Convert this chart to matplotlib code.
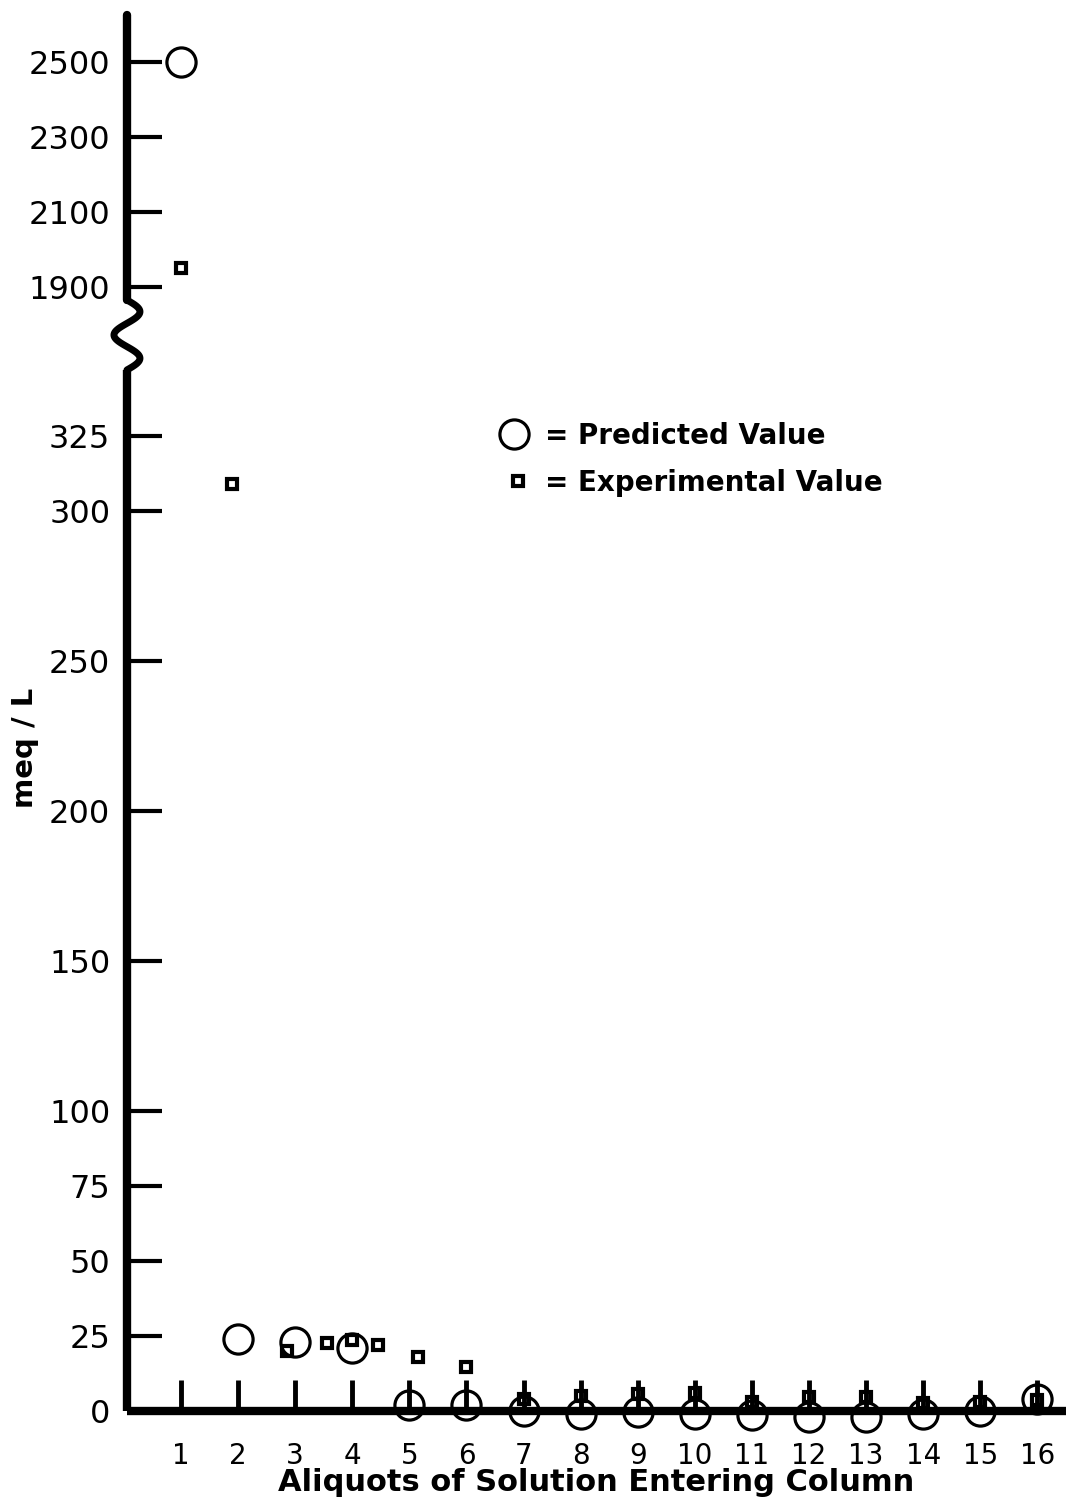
import numpy as np
import matplotlib.pyplot as plt

# predicted concentration for each aliquot
aliquot = np.arange(1, 17)
predicted = [2500, 24, 23, 21, 2, 2, 0, -1, -0.5, -1, -1.5, -2, -2, -1, 0, 4]

# measured concentration (first few aliquots were sampled between ticks)
exp_x = [1, 1.9, 2.85, 3.55, 4.0, 4.45, 5.15, 6.0,
         7, 8, 9, 10, 11, 12, 13, 14, 15, 16]
experimental = [1950, 309, 20, 22.7, 23.5, 22, 18, 14.5,
                4, 5, 5.5, 6, 3, 4.5, 4.5, 2.5, 3, 3.5]

yticks = [0, 25, 50, 75, 100, 150, 200, 250, 300, 325, 1900, 2100, 2300, 2500]

# broken axis: 1:1 up to 340, squeezed across the gap, 1/8 scale above 1800
brk_in = [-1000, 340, 1800, 5000]
brk_out = [-1000, 340, 362.2, 762.2]


def forward(v):
    return np.interp(v, brk_in, brk_out)


def inverse(u):
    return np.interp(u, brk_out, brk_in)


plt.rcParams['font.family'] = 'DejaVu Sans'

W, H = 1066, 1502
fig = plt.figure(figsize=(W / 100, H / 100), dpi=100)
ax = fig.add_axes([0.1191, 0.0606, 0.8809, 0.9294])

ax.set_yscale('function', functions=(forward, inverse))
ax.set_ylim(0, 2626)
ax.set_xlim(0.054, 16.5)

circ = dict(ls='none', marker='o', ms=21, mfc='none', mec='black', mew=2.3)
sq = dict(ls='none', marker='s', ms=7.0, mfc='none', mec='black', mew=3.0)

ax.plot(aliquot, predicted, clip_on=False, zorder=4, **circ)
ax.plot(exp_x, experimental, clip_on=False, zorder=5, **sq)

# axes lines
for s in ['top', 'right', 'left']:
    ax.spines[s].set_visible(False)
ax.spines['bottom'].set_linewidth(6)
ax.spines['bottom'].set_capstyle('butt')

# left axis with a squiggle marking the break
y_lo, y_hi = 347.0 / 465.3, 370.3 / 465.3
t = np.linspace(0, 1, 60)
sq_y = y_hi - t * (y_hi - y_lo)
sq_x = (13 / 939) * np.sin(3 * np.pi * t)
ax.plot([0, 0], [0, y_lo], color='black', lw=6, transform=ax.transAxes,
        clip_on=False, solid_capstyle='butt')
ax.plot(sq_x, sq_y, color='black', lw=5, transform=ax.transAxes,
        clip_on=False, solid_capstyle='round')
ax.plot([0, 0], [y_hi, 1], color='black', lw=6, transform=ax.transAxes,
        clip_on=False, solid_capstyle='round')

ax.set_yticks(yticks)
ax.set_yticklabels([str(v) for v in yticks])
ax.set_xticks(aliquot)
ax.set_xticklabels([str(v) for v in aliquot])
ax.yaxis.set_minor_locator(plt.NullLocator())
ax.tick_params(axis='y', direction='in', length=25, width=3, pad=12,
               labelsize=23)
ax.tick_params(axis='x', direction='in', length=22, width=3.5, pad=22,
               labelsize=20)

ax.set_xlabel('Aliquots of Solution Entering Column', fontsize=22,
              fontweight='bold', labelpad=-1)
ax.set_ylabel('meq / L', fontsize=21, fontweight='bold')
ax.yaxis.set_label_coords(-0.094, 0.475)

# key, hand-placed in figure pixels
ax.plot([514 / W], [1 - 434 / H], transform=fig.transFigure, clip_on=False, **circ)
ax.plot([518 / W], [1 - 481 / H], transform=fig.transFigure, clip_on=False, **sq)
fig.text(545 / W, 1 - 444 / H, '= Predicted Value', fontsize=20,
         fontweight='bold', va='baseline')
fig.text(545 / W, 1 - 491 / H, '= Experimental Value', fontsize=20,
         fontweight='bold', va='baseline')

fig.savefig('out.png', dpi=100)
